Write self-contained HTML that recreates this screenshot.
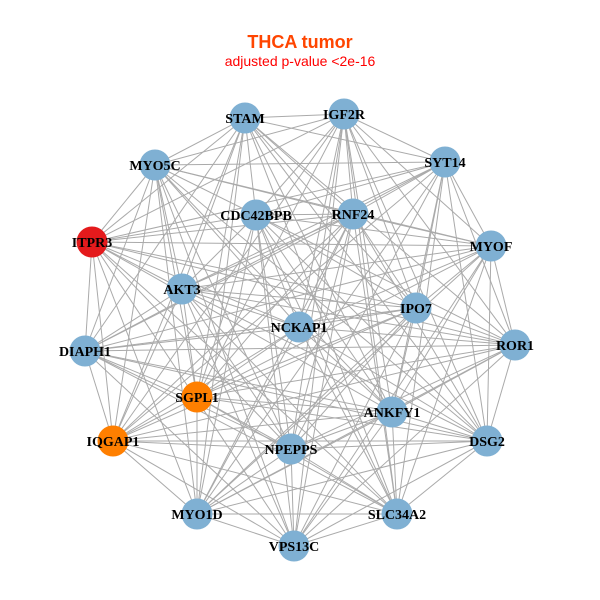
<!DOCTYPE html>
<html><head><meta charset="utf-8"><style>
html,body{margin:0;padding:0;background:#fff;width:600px;height:600px;overflow:hidden}
</style></head><body>
<svg id="s" width="600" height="600" xmlns="http://www.w3.org/2000/svg">
<rect width="600" height="600" fill="#fff"/>
<text x="300" y="48" text-anchor="middle" font-family="Liberation Sans, sans-serif" font-weight="bold" font-size="18" fill="#ff4500">THCA tumor</text>
<text x="300" y="66" text-anchor="middle" font-family="Liberation Sans, sans-serif" font-size="14" fill="#ff0000">adjusted p-value &lt;2e-16</text>
<g id="e" stroke="#aaaaaa" stroke-width="1"></g>
<g id="n"></g>
</svg>
<script>
var N=[["STAM",245,118,"#7fb0d3"],["IGF2R",344,114,"#7fb0d3"],["MYO5C",155,165,"#7fb0d3"],["SYT14",445,162,"#7fb0d3"],["CDC42BPB",256,215,"#7fb0d3"],["RNF24",353,214,"#7fb0d3"],["ITPR3",92,242,"#e41a1c"],["MYOF",491,246,"#7fb0d3"],["AKT3",182,289,"#7fb0d3"],["IPO7",416,308,"#7fb0d3"],["NCKAP1",299,327,"#7fb0d3"],["DIAPH1",85,351,"#7fb0d3"],["ROR1",515,345,"#7fb0d3"],["SGPL1",197,397,"#ff7f00"],["IQGAP1",113,441,"#ff7f00"],["ANKFY1",392,412,"#7fb0d3"],["DSG2",487,441,"#7fb0d3"],["NPEPPS",291,449,"#7fb0d3"],["MYO1D",197,514,"#7fb0d3"],["SLC34A2",397,514,"#7fb0d3"],["VPS13C",294,546,"#7fb0d3"]];
var e="",n="";
for(var i=0;i<N.length;i++)for(var j=i+1;j<N.length;j++){
 if(((i*7+j*13)%10)<2)continue;
 e+='<line x1="'+N[i][1]+'" y1="'+N[i][2]+'" x2="'+N[j][1]+'" y2="'+N[j][2]+'"/>';}
for(var i=0;i<N.length;i++){
 n+='<circle cx="'+N[i][1]+'" cy="'+N[i][2]+'" r="15.5" fill="'+N[i][3]+'"/>';
 n+='<text x="'+N[i][1]+'" y="'+(N[i][2]+5)+'" text-anchor="middle" font-family="Liberation Serif, serif" font-weight="bold" font-size="14" fill="#000">'+N[i][0]+'</text>';}
document.getElementById("e").innerHTML=e;
document.getElementById("n").innerHTML=n;
</script>
</body></html>
